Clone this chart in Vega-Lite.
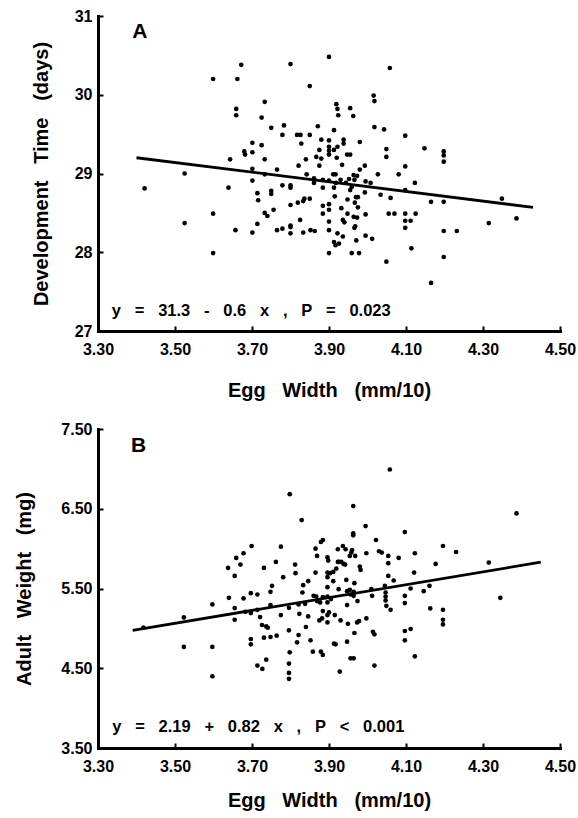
{
  "$schema": "https://vega.github.io/schema/vega-lite/v6.json",
  "background": "white",
  "padding": {"left": 14, "top": 8, "right": 2, "bottom": 2},
  "spacing": 21,
  "config": {
    "view": {"stroke": null},
    "font": "Liberation Sans",
    "axis": {
      "grid": false,
      "labelFlush": false,
      "domainColor": "black",
      "domainWidth": 3,
      "domainCap": "square",
      "tickColor": "black",
      "tickWidth": 2,
      "tickSize": -5,
      "labelColor": "black",
      "labelFont": "Liberation Sans",
      "labelFontSize": 16,
      "labelFontWeight": "bold",
      "titleColor": "black",
      "titleFont": "Liberation Sans",
      "titleFontSize": 20,
      "titleFontWeight": "bold"
    }
  },
  "datasets": {
    "devA": [
      {"egg_width": 3.421, "dev_time": 28.81}, {"egg_width": 3.525, "dev_time": 29.00}, {"egg_width": 3.525, "dev_time": 28.37},
      {"egg_width": 3.599, "dev_time": 30.20}, {"egg_width": 3.599, "dev_time": 28.49}, {"egg_width": 3.599, "dev_time": 27.99},
      {"egg_width": 3.639, "dev_time": 28.82}, {"egg_width": 3.643, "dev_time": 29.18}, {"egg_width": 3.657, "dev_time": 28.28},
      {"egg_width": 3.662, "dev_time": 30.20}, {"egg_width": 3.659, "dev_time": 29.82}, {"egg_width": 3.659, "dev_time": 29.74},
      {"egg_width": 3.672, "dev_time": 30.38}, {"egg_width": 3.680, "dev_time": 29.28}, {"egg_width": 3.682, "dev_time": 29.24},
      {"egg_width": 3.701, "dev_time": 29.39}, {"egg_width": 3.701, "dev_time": 29.27}, {"egg_width": 3.701, "dev_time": 29.06},
      {"egg_width": 3.701, "dev_time": 28.91}, {"egg_width": 3.701, "dev_time": 28.25}, {"egg_width": 3.714, "dev_time": 28.75},
      {"egg_width": 3.716, "dev_time": 28.66}, {"egg_width": 3.714, "dev_time": 28.36}, {"egg_width": 3.725, "dev_time": 29.71},
      {"egg_width": 3.725, "dev_time": 29.36}, {"egg_width": 3.733, "dev_time": 29.91}, {"egg_width": 3.733, "dev_time": 29.18},
      {"egg_width": 3.733, "dev_time": 28.99}, {"egg_width": 3.733, "dev_time": 28.50}, {"egg_width": 3.740, "dev_time": 28.46},
      {"egg_width": 3.750, "dev_time": 29.58}, {"egg_width": 3.750, "dev_time": 28.78}, {"egg_width": 3.750, "dev_time": 28.74},
      {"egg_width": 3.756, "dev_time": 28.54}, {"egg_width": 3.765, "dev_time": 29.05}, {"egg_width": 3.765, "dev_time": 28.28},
      {"egg_width": 3.779, "dev_time": 29.49}, {"egg_width": 3.783, "dev_time": 29.61}, {"egg_width": 3.779, "dev_time": 28.85},
      {"egg_width": 3.779, "dev_time": 28.30}, {"egg_width": 3.800, "dev_time": 30.39}, {"egg_width": 3.800, "dev_time": 28.85},
      {"egg_width": 3.800, "dev_time": 28.82}, {"egg_width": 3.800, "dev_time": 28.60}, {"egg_width": 3.800, "dev_time": 28.34},
      {"egg_width": 3.800, "dev_time": 28.24}, {"egg_width": 3.800, "dev_time": 28.32}, {"egg_width": 3.817, "dev_time": 29.49},
      {"egg_width": 3.821, "dev_time": 29.10}, {"egg_width": 3.819, "dev_time": 28.63}, {"egg_width": 3.826, "dev_time": 29.49},
      {"egg_width": 3.828, "dev_time": 29.38}, {"egg_width": 3.825, "dev_time": 28.41}, {"egg_width": 3.833, "dev_time": 28.65},
      {"egg_width": 3.836, "dev_time": 28.68}, {"egg_width": 3.833, "dev_time": 28.25}, {"egg_width": 3.840, "dev_time": 29.18},
      {"egg_width": 3.842, "dev_time": 28.99}, {"egg_width": 3.850, "dev_time": 30.11}, {"egg_width": 3.850, "dev_time": 29.49},
      {"egg_width": 3.850, "dev_time": 28.68}, {"egg_width": 3.852, "dev_time": 28.28}, {"egg_width": 3.861, "dev_time": 28.94},
      {"egg_width": 3.861, "dev_time": 28.88}, {"egg_width": 3.863, "dev_time": 28.27}, {"egg_width": 3.871, "dev_time": 29.60},
      {"egg_width": 3.867, "dev_time": 29.21}, {"egg_width": 3.875, "dev_time": 29.30}, {"egg_width": 3.875, "dev_time": 29.10},
      {"egg_width": 3.880, "dev_time": 29.43}, {"egg_width": 3.880, "dev_time": 29.19}, {"egg_width": 3.884, "dev_time": 28.92},
      {"egg_width": 3.884, "dev_time": 28.82}, {"egg_width": 3.884, "dev_time": 28.59}, {"egg_width": 3.884, "dev_time": 28.49},
      {"egg_width": 3.900, "dev_time": 30.48}, {"egg_width": 3.900, "dev_time": 29.42}, {"egg_width": 3.900, "dev_time": 29.34},
      {"egg_width": 3.900, "dev_time": 29.29}, {"egg_width": 3.900, "dev_time": 29.24}, {"egg_width": 3.900, "dev_time": 28.91},
      {"egg_width": 3.900, "dev_time": 28.61}, {"egg_width": 3.900, "dev_time": 28.54}, {"egg_width": 3.900, "dev_time": 28.39},
      {"egg_width": 3.900, "dev_time": 28.28}, {"egg_width": 3.900, "dev_time": 27.99}, {"egg_width": 3.913, "dev_time": 29.55},
      {"egg_width": 3.913, "dev_time": 29.30}, {"egg_width": 3.911, "dev_time": 28.99}, {"egg_width": 3.917, "dev_time": 28.99},
      {"egg_width": 3.913, "dev_time": 28.82}, {"egg_width": 3.918, "dev_time": 28.88}, {"egg_width": 3.915, "dev_time": 28.71},
      {"egg_width": 3.913, "dev_time": 28.13}, {"egg_width": 3.917, "dev_time": 28.09}, {"egg_width": 3.919, "dev_time": 29.88},
      {"egg_width": 3.922, "dev_time": 29.82}, {"egg_width": 3.924, "dev_time": 29.74}, {"egg_width": 3.922, "dev_time": 29.34},
      {"egg_width": 3.920, "dev_time": 29.20}, {"egg_width": 3.922, "dev_time": 28.24}, {"egg_width": 3.926, "dev_time": 28.11},
      {"egg_width": 3.930, "dev_time": 28.92}, {"egg_width": 3.934, "dev_time": 29.11}, {"egg_width": 3.936, "dev_time": 28.41},
      {"egg_width": 3.932, "dev_time": 28.56}, {"egg_width": 3.938, "dev_time": 29.43}, {"egg_width": 3.938, "dev_time": 29.38},
      {"egg_width": 3.936, "dev_time": 28.20}, {"egg_width": 3.940, "dev_time": 28.38}, {"egg_width": 3.944, "dev_time": 28.88},
      {"egg_width": 3.952, "dev_time": 28.93}, {"egg_width": 3.948, "dev_time": 28.67}, {"egg_width": 3.947, "dev_time": 29.24},
      {"egg_width": 3.948, "dev_time": 28.49}, {"egg_width": 3.955, "dev_time": 29.83}, {"egg_width": 3.955, "dev_time": 29.24},
      {"egg_width": 3.955, "dev_time": 28.79}, {"egg_width": 3.959, "dev_time": 27.99}, {"egg_width": 3.959, "dev_time": 28.83},
      {"egg_width": 3.963, "dev_time": 29.73}, {"egg_width": 3.964, "dev_time": 28.98}, {"egg_width": 3.973, "dev_time": 28.97},
      {"egg_width": 3.966, "dev_time": 28.92}, {"egg_width": 3.964, "dev_time": 28.45}, {"egg_width": 3.966, "dev_time": 28.31},
      {"egg_width": 3.968, "dev_time": 28.33}, {"egg_width": 3.970, "dev_time": 28.70}, {"egg_width": 3.967, "dev_time": 28.63},
      {"egg_width": 3.971, "dev_time": 28.15}, {"egg_width": 3.975, "dev_time": 28.70}, {"egg_width": 3.978, "dev_time": 27.99},
      {"egg_width": 3.973, "dev_time": 28.44}, {"egg_width": 3.975, "dev_time": 28.57}, {"egg_width": 3.980, "dev_time": 29.40},
      {"egg_width": 3.980, "dev_time": 29.05}, {"egg_width": 3.993, "dev_time": 29.10}, {"egg_width": 3.995, "dev_time": 28.90},
      {"egg_width": 3.993, "dev_time": 28.76}, {"egg_width": 3.995, "dev_time": 28.48}, {"egg_width": 3.995, "dev_time": 28.21},
      {"egg_width": 4.008, "dev_time": 28.88}, {"egg_width": 4.012, "dev_time": 28.17}, {"egg_width": 4.016, "dev_time": 29.99},
      {"egg_width": 4.018, "dev_time": 29.92}, {"egg_width": 4.018, "dev_time": 29.59}, {"egg_width": 4.027, "dev_time": 28.99},
      {"egg_width": 4.034, "dev_time": 28.73}, {"egg_width": 4.043, "dev_time": 29.56}, {"egg_width": 4.049, "dev_time": 29.31},
      {"egg_width": 4.049, "dev_time": 29.21}, {"egg_width": 4.049, "dev_time": 27.88}, {"egg_width": 4.058, "dev_time": 30.34},
      {"egg_width": 4.060, "dev_time": 28.69}, {"egg_width": 4.055, "dev_time": 28.49}, {"egg_width": 4.070, "dev_time": 28.49},
      {"egg_width": 4.081, "dev_time": 28.99}, {"egg_width": 4.098, "dev_time": 29.48}, {"egg_width": 4.098, "dev_time": 29.09},
      {"egg_width": 4.098, "dev_time": 28.79}, {"egg_width": 4.098, "dev_time": 28.49}, {"egg_width": 4.098, "dev_time": 28.40},
      {"egg_width": 4.098, "dev_time": 28.31}, {"egg_width": 4.112, "dev_time": 28.40}, {"egg_width": 4.114, "dev_time": 28.05},
      {"egg_width": 4.123, "dev_time": 28.88}, {"egg_width": 4.125, "dev_time": 28.49}, {"egg_width": 4.148, "dev_time": 29.32},
      {"egg_width": 4.165, "dev_time": 28.64}, {"egg_width": 4.165, "dev_time": 27.61}, {"egg_width": 4.198, "dev_time": 29.28},
      {"egg_width": 4.198, "dev_time": 29.23}, {"egg_width": 4.198, "dev_time": 29.15}, {"egg_width": 4.198, "dev_time": 28.64},
      {"egg_width": 4.198, "dev_time": 28.27}, {"egg_width": 4.198, "dev_time": 27.94}, {"egg_width": 4.232, "dev_time": 28.27},
      {"egg_width": 4.315, "dev_time": 28.37}, {"egg_width": 4.349, "dev_time": 28.68}, {"egg_width": 4.387, "dev_time": 28.43}
    ],
    "wtB": [
      {"egg_width": 3.523, "adult_weight": 4.767}, {"egg_width": 3.523, "adult_weight": 5.137}, {"egg_width": 3.418, "adult_weight": 5.01},
      {"egg_width": 3.597, "adult_weight": 5.30}, {"egg_width": 3.597, "adult_weight": 4.767}, {"egg_width": 3.597, "adult_weight": 4.40},
      {"egg_width": 3.638, "adult_weight": 5.758}, {"egg_width": 3.640, "adult_weight": 5.383}, {"egg_width": 3.655, "adult_weight": 5.658},
      {"egg_width": 3.659, "adult_weight": 5.883}, {"egg_width": 3.655, "adult_weight": 5.254}, {"egg_width": 3.655, "adult_weight": 5.108},
      {"egg_width": 3.670, "adult_weight": 5.80}, {"egg_width": 3.678, "adult_weight": 5.942}, {"egg_width": 3.678, "adult_weight": 5.375},
      {"egg_width": 3.683, "adult_weight": 5.208}, {"egg_width": 3.699, "adult_weight": 6.033}, {"egg_width": 3.697, "adult_weight": 5.442},
      {"egg_width": 3.697, "adult_weight": 5.192}, {"egg_width": 3.697, "adult_weight": 4.867}, {"egg_width": 3.697, "adult_weight": 4.80},
      {"egg_width": 3.714, "adult_weight": 5.425}, {"egg_width": 3.714, "adult_weight": 5.233}, {"egg_width": 3.714, "adult_weight": 4.533},
      {"egg_width": 3.721, "adult_weight": 5.142}, {"egg_width": 3.727, "adult_weight": 4.492}, {"egg_width": 3.726, "adult_weight": 5.042},
      {"egg_width": 3.731, "adult_weight": 5.758}, {"egg_width": 3.731, "adult_weight": 4.883}, {"egg_width": 3.737, "adult_weight": 5.025},
      {"egg_width": 3.741, "adult_weight": 5.008}, {"egg_width": 3.737, "adult_weight": 4.608}, {"egg_width": 3.748, "adult_weight": 5.458},
      {"egg_width": 3.752, "adult_weight": 5.533}, {"egg_width": 3.748, "adult_weight": 5.292}, {"egg_width": 3.748, "adult_weight": 4.892},
      {"egg_width": 3.762, "adult_weight": 5.833}, {"egg_width": 3.764, "adult_weight": 4.908}, {"egg_width": 3.775, "adult_weight": 6.025},
      {"egg_width": 3.781, "adult_weight": 5.642}, {"egg_width": 3.775, "adult_weight": 5.167}, {"egg_width": 3.798, "adult_weight": 6.683},
      {"egg_width": 3.796, "adult_weight": 5.258}, {"egg_width": 3.796, "adult_weight": 4.975}, {"egg_width": 3.798, "adult_weight": 4.70},
      {"egg_width": 3.796, "adult_weight": 4.558}, {"egg_width": 3.796, "adult_weight": 4.442}, {"egg_width": 3.796, "adult_weight": 4.367},
      {"egg_width": 3.812, "adult_weight": 5.80}, {"egg_width": 3.813, "adult_weight": 5.692}, {"egg_width": 3.821, "adult_weight": 5.30},
      {"egg_width": 3.823, "adult_weight": 5.183}, {"egg_width": 3.821, "adult_weight": 4.917}, {"egg_width": 3.817, "adult_weight": 4.825},
      {"egg_width": 3.829, "adult_weight": 6.358}, {"egg_width": 3.831, "adult_weight": 5.45}, {"egg_width": 3.833, "adult_weight": 5.542},
      {"egg_width": 3.838, "adult_weight": 5.308}, {"egg_width": 3.840, "adult_weight": 5.017}, {"egg_width": 3.846, "adult_weight": 5.592},
      {"egg_width": 3.846, "adult_weight": 5.150}, {"egg_width": 3.852, "adult_weight": 4.85}, {"egg_width": 3.858, "adult_weight": 4.708},
      {"egg_width": 3.860, "adult_weight": 5.408}, {"egg_width": 3.865, "adult_weight": 6.00}, {"egg_width": 3.865, "adult_weight": 5.70},
      {"egg_width": 3.867, "adult_weight": 5.40}, {"egg_width": 3.869, "adult_weight": 5.908}, {"egg_width": 3.869, "adult_weight": 5.342},
      {"egg_width": 3.875, "adult_weight": 5.10}, {"egg_width": 3.879, "adult_weight": 6.083}, {"egg_width": 3.884, "adult_weight": 6.108},
      {"egg_width": 3.877, "adult_weight": 5.325}, {"egg_width": 3.879, "adult_weight": 4.708}, {"egg_width": 3.884, "adult_weight": 4.667},
      {"egg_width": 3.884, "adult_weight": 5.392}, {"egg_width": 3.882, "adult_weight": 5.125}, {"egg_width": 3.884, "adult_weight": 5.217},
      {"egg_width": 3.896, "adult_weight": 5.892}, {"egg_width": 3.898, "adult_weight": 5.85}, {"egg_width": 3.896, "adult_weight": 5.70},
      {"egg_width": 3.896, "adult_weight": 5.642}, {"egg_width": 3.896, "adult_weight": 5.517}, {"egg_width": 3.896, "adult_weight": 5.40},
      {"egg_width": 3.896, "adult_weight": 5.325}, {"egg_width": 3.896, "adult_weight": 5.167}, {"egg_width": 3.896, "adult_weight": 5.075},
      {"egg_width": 3.900, "adult_weight": 5.20}, {"egg_width": 3.903, "adult_weight": 5.692}, {"egg_width": 3.905, "adult_weight": 5.367},
      {"egg_width": 3.911, "adult_weight": 5.708}, {"egg_width": 3.911, "adult_weight": 5.592}, {"egg_width": 3.915, "adult_weight": 5.167},
      {"egg_width": 3.913, "adult_weight": 4.808}, {"egg_width": 3.917, "adult_weight": 4.80}, {"egg_width": 3.919, "adult_weight": 5.75},
      {"egg_width": 3.923, "adult_weight": 5.992}, {"egg_width": 3.923, "adult_weight": 5.833}, {"egg_width": 3.925, "adult_weight": 5.492},
      {"egg_width": 3.926, "adult_weight": 5.833}, {"egg_width": 3.932, "adult_weight": 5.833}, {"egg_width": 3.938, "adult_weight": 5.808},
      {"egg_width": 3.942, "adult_weight": 5.80}, {"egg_width": 3.928, "adult_weight": 4.458}, {"egg_width": 3.930, "adult_weight": 5.10},
      {"egg_width": 3.936, "adult_weight": 6.033}, {"egg_width": 3.943, "adult_weight": 5.992}, {"egg_width": 3.945, "adult_weight": 5.608},
      {"egg_width": 3.947, "adult_weight": 5.467}, {"egg_width": 3.947, "adult_weight": 5.292}, {"egg_width": 3.949, "adult_weight": 5.058},
      {"egg_width": 3.947, "adult_weight": 4.833}, {"egg_width": 3.954, "adult_weight": 5.908}, {"egg_width": 3.958, "adult_weight": 5.95},
      {"egg_width": 3.960, "adult_weight": 5.983}, {"egg_width": 3.954, "adult_weight": 5.483}, {"egg_width": 3.956, "adult_weight": 5.425},
      {"egg_width": 3.956, "adult_weight": 4.625}, {"egg_width": 3.964, "adult_weight": 4.625}, {"egg_width": 3.963, "adult_weight": 6.533},
      {"egg_width": 3.963, "adult_weight": 6.192}, {"egg_width": 3.963, "adult_weight": 6.167}, {"egg_width": 3.964, "adult_weight": 5.458},
      {"egg_width": 3.964, "adult_weight": 5.408}, {"egg_width": 3.966, "adult_weight": 5.567}, {"egg_width": 3.966, "adult_weight": 4.942},
      {"egg_width": 3.968, "adult_weight": 5.908}, {"egg_width": 3.973, "adult_weight": 5.075}, {"egg_width": 3.974, "adult_weight": 5.342},
      {"egg_width": 3.978, "adult_weight": 5.092}, {"egg_width": 3.980, "adult_weight": 5.775}, {"egg_width": 3.982, "adult_weight": 5.733},
      {"egg_width": 3.995, "adult_weight": 6.283}, {"egg_width": 3.997, "adult_weight": 5.942}, {"egg_width": 3.997, "adult_weight": 5.125},
      {"egg_width": 4.010, "adult_weight": 5.492}, {"egg_width": 4.012, "adult_weight": 5.408}, {"egg_width": 4.014, "adult_weight": 4.958},
      {"egg_width": 4.018, "adult_weight": 4.925}, {"egg_width": 4.018, "adult_weight": 4.533}, {"egg_width": 4.022, "adult_weight": 6.108},
      {"egg_width": 4.030, "adult_weight": 5.967}, {"egg_width": 4.037, "adult_weight": 5.95}, {"egg_width": 4.045, "adult_weight": 5.533},
      {"egg_width": 4.047, "adult_weight": 5.45}, {"egg_width": 4.047, "adult_weight": 5.40}, {"egg_width": 4.047, "adult_weight": 5.35},
      {"egg_width": 4.049, "adult_weight": 5.283}, {"egg_width": 4.054, "adult_weight": 5.908}, {"egg_width": 4.054, "adult_weight": 5.817},
      {"egg_width": 4.054, "adult_weight": 5.658}, {"egg_width": 4.058, "adult_weight": 6.992}, {"egg_width": 4.060, "adult_weight": 5.233},
      {"egg_width": 4.068, "adult_weight": 5.60}, {"egg_width": 4.081, "adult_weight": 5.883}, {"egg_width": 4.097, "adult_weight": 6.208},
      {"egg_width": 4.097, "adult_weight": 5.408}, {"egg_width": 4.097, "adult_weight": 5.317}, {"egg_width": 4.097, "adult_weight": 4.967},
      {"egg_width": 4.097, "adult_weight": 4.85}, {"egg_width": 4.112, "adult_weight": 5.50}, {"egg_width": 4.112, "adult_weight": 4.992},
      {"egg_width": 4.123, "adult_weight": 5.942}, {"egg_width": 4.121, "adult_weight": 5.70}, {"egg_width": 4.123, "adult_weight": 4.65},
      {"egg_width": 4.146, "adult_weight": 5.467}, {"egg_width": 4.161, "adult_weight": 5.533}, {"egg_width": 4.163, "adult_weight": 5.25},
      {"egg_width": 4.177, "adult_weight": 5.808}, {"egg_width": 4.196, "adult_weight": 6.033}, {"egg_width": 4.196, "adult_weight": 5.233},
      {"egg_width": 4.196, "adult_weight": 5.108}, {"egg_width": 4.196, "adult_weight": 5.05}, {"egg_width": 4.230, "adult_weight": 5.958},
      {"egg_width": 4.315, "adult_weight": 5.825}, {"egg_width": 4.345, "adult_weight": 5.383}, {"egg_width": 4.387, "adult_weight": 6.442}
    ],
    "lineA": [{"egg_width": 3.40, "dev_time": 29.20}, {"egg_width": 4.43, "dev_time": 28.57}],
    "lineB": [{"egg_width": 3.39, "adult_weight": 4.975}, {"egg_width": 4.45, "adult_weight": 5.83}],
    "txtA": [
      {"kind": "panel", "egg_width": 3.389, "dev_time": 30.725, "label": "A"},
      {"kind": "equation", "egg_width": 3.336, "dev_time": 27.19, "label": "y\u00a0\u00a0\u00a0=\u00a0\u00a0\u00a031.3\u00a0\u00a0\u00a0-\u00a0\u00a0\u00a00.6\u00a0\u00a0\u00a0x\u00a0\u00a0\u00a0,\u00a0\u00a0\u00a0P\u00a0\u00a0\u00a0=\u00a0\u00a0\u00a00.023"}
    ],
    "txtB": [
      {"kind": "panel", "egg_width": 3.386, "adult_weight": 7.216, "label": "B"},
      {"kind": "equation", "egg_width": 3.337, "adult_weight": 3.70, "label": "y\u00a0\u00a0\u00a0=\u00a0\u00a0\u00a02.19\u00a0\u00a0\u00a0+\u00a0\u00a0\u00a00.82\u00a0\u00a0\u00a0x\u00a0\u00a0\u00a0,\u00a0\u00a0\u00a0P\u00a0\u00a0\u00a0<\u00a0\u00a0\u00a00.001"}
    ]
  },
  "vconcat": [
    {
      "width": 462,
      "height": 315,
      "encoding": {
        "x": {"field": "egg_width", "type": "quantitative",
          "scale": {"domain": [3.3, 4.5], "nice": false, "zero": false},
          "axis": {"values": [3.3, 3.5, 3.7, 3.9, 4.1, 4.3, 4.5], "format": ".2f",
            "title": "Egg\u00a0\u00a0\u00a0Width\u00a0\u00a0\u00a0(mm/10)", "labelPadding": 15, "titlePadding": 23}},
        "y": {"field": "dev_time", "type": "quantitative",
          "scale": {"domain": [27, 31], "nice": false, "zero": false},
          "axis": {"values": [27, 28, 29, 30, 31], "format": "d",
            "title": "Development\u00a0\u00a0\u00a0Time\u00a0\u00a0\u00a0(days)", "labelPadding": 11, "titlePadding": 23}}
      },
      "layer": [
        {"data": {"name": "devA"}, "mark": {"type": "circle", "size": 22, "color": "black", "opacity": 1}},
        {"data": {"name": "lineA"}, "mark": {"type": "line", "color": "black", "strokeWidth": 2.8}},
        {"data": {"name": "txtA"}, "transform": [{"filter": "datum.kind === 'panel'"}],
          "mark": {"type": "text", "align": "left", "baseline": "alphabetic", "fontSize": 21, "fontWeight": "bold", "font": "Liberation Sans", "color": "black"},
          "encoding": {"text": {"field": "label"}}},
        {"data": {"name": "txtA"}, "transform": [{"filter": "datum.kind === 'equation'"}],
          "mark": {"type": "text", "align": "left", "baseline": "alphabetic", "fontSize": 16.5, "fontWeight": "bold", "font": "Liberation Sans", "color": "black"},
          "encoding": {"text": {"field": "label"}}}
      ]
    },
    {
      "width": 462,
      "height": 319,
      "encoding": {
        "x": {"field": "egg_width", "type": "quantitative",
          "scale": {"domain": [3.3, 4.5], "nice": false, "zero": false},
          "axis": {"values": [3.3, 3.5, 3.7, 3.9, 4.1, 4.3, 4.5], "format": ".2f",
            "title": "Egg\u00a0\u00a0\u00a0Width\u00a0\u00a0\u00a0(mm/10)", "labelPadding": 15, "titlePadding": 16}},
        "y": {"field": "adult_weight", "type": "quantitative",
          "scale": {"domain": [3.5, 7.5], "nice": false, "zero": false},
          "axis": {"values": [3.5, 4.5, 5.5, 6.5, 7.5], "format": ".2f",
            "title": "Adult\u00a0\u00a0\u00a0Weight\u00a0\u00a0\u00a0(mg)", "labelPadding": 11, "titlePadding": 26}}
      },
      "layer": [
        {"data": {"name": "wtB"}, "mark": {"type": "circle", "size": 22, "color": "black", "opacity": 1}},
        {"data": {"name": "lineB"}, "mark": {"type": "line", "color": "black", "strokeWidth": 2.8}},
        {"data": {"name": "txtB"}, "transform": [{"filter": "datum.kind === 'panel'"}],
          "mark": {"type": "text", "align": "left", "baseline": "alphabetic", "fontSize": 21, "fontWeight": "bold", "font": "Liberation Sans", "color": "black"},
          "encoding": {"text": {"field": "label"}}},
        {"data": {"name": "txtB"}, "transform": [{"filter": "datum.kind === 'equation'"}],
          "mark": {"type": "text", "align": "left", "baseline": "alphabetic", "fontSize": 16.5, "fontWeight": "bold", "font": "Liberation Sans", "color": "black"},
          "encoding": {"text": {"field": "label"}}}
      ]
    }
  ]
}
